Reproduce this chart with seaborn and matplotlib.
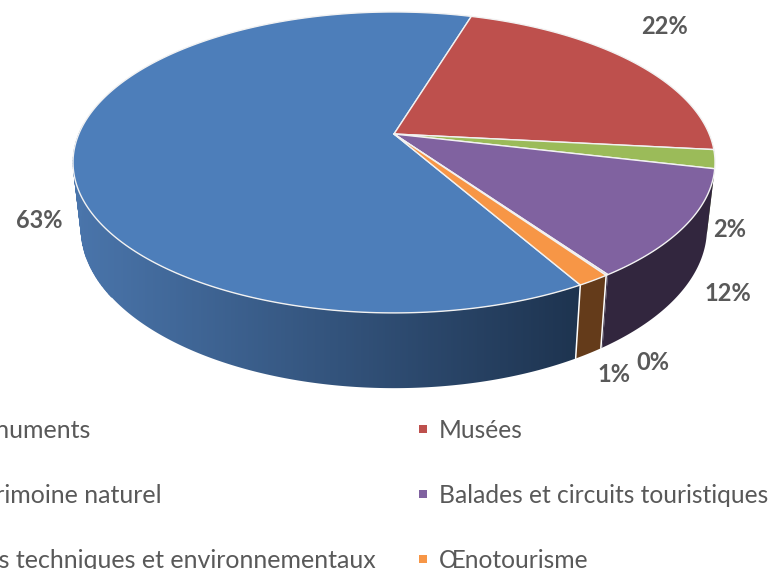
import numpy as np
import matplotlib
matplotlib.use("Agg")
import matplotlib.pyplot as plt
from matplotlib.patches import Polygon
import seaborn as sns

# 데이터
categories = ["Monuments", "Musées", "Patrimoine naturel", "Balades et circuits touristiques",
              "Sites techniques et environnementaux", "Œnotourisme"]
shares = [62.9, 22.0, 2.0, 11.6, 0.1, 1.4]
top_colors = ["#4D7EBA", "#BE504D", "#9BBB59", "#8062A0", "#8062A0", "#F79646"]
wall_left = ["#4A75AB", "#7A302E", "#5D7035", "#32263E", "#32263E", "#6A3F1C"]
wall_right = ["#1C314C", "#7A302E", "#5D7035", "#32263E", "#32263E", "#643B1A"]
start_angle = -209.6

sns.set_theme(style="white")
plt.rcParams["font.family"] = ["Lato", "DejaVu Sans"]
text_color = "#595959"

fig, ax = plt.subplots(figsize=(7.73, 5.69), dpi=100)
fig.subplots_adjust(0, 0, 1, 1)
ax.axis("off")

# 원근 투영 (각도는 12시 방향에서 시계방향)
cx, cy, a, b, k = 394, 134, 315.2, 145.1, -0.189


def rim(deg):
    t = np.radians(deg)
    u, v = np.sin(t), -np.cos(t)
    w = 1 + k * v
    return cx + a * u / w, cy + b * v / w


def floor(x, y):
    return cx + 0.975 * (x - cx), y + 56 + 0.0615 * y


edges = start_angle + np.concatenate([[0], np.cumsum(shares)]) * 3.6

# 옆면 (그라데이션 이미지를 다각형으로 자름)
x_min, x_max = 75, 600
ramp = np.clip((np.arange(773) - x_min) / (x_max - x_min), 0, 1)[None, :]
for i in range(len(shares)):
    # 파랑 조각만 음수 각도 구간에 있음
    near_lo, near_hi = (-270, -88) if i == 0 else (90, 272)
    lo, hi = max(edges[i], near_lo), min(edges[i + 1], near_hi)
    if lo >= hi:
        continue
    xs, ys = rim(np.linspace(lo, hi, 200))
    fx, fy = floor(xs, ys)
    pts = np.c_[np.r_[xs, fx[::-1]], np.r_[ys, fy[::-1]]]
    cmap = sns.blend_palette([wall_left[i], wall_right[i]], as_cmap=True)
    img = ax.imshow(ramp, extent=(0, 773, 400, 100), cmap=cmap, vmin=0, vmax=1,
                    aspect="auto", zorder=2)
    img.set_clip_path(Polygon(pts, closed=True, transform=ax.transData))

# 왼쪽 끝 얇은 옆면은 클립에서 빠지므로 따로 채움
steps = np.arange(-125, -85, 1.0)
for t0, t1 in zip(steps[:-1], steps[1:]):
    x0, y0 = rim(t0)
    x1, y1 = rim(t1)
    x2, y2 = floor(x1, y1)
    x3, y3 = floor(x0, y0)
    ax.fill([x0, x1, x2, x3], [y0, y1, y2, y3], color=wall_left[0], lw=0.5, zorder=1.5)

ax.set_xlim(0, 773)
ax.set_ylim(569, 0)

# 옆면 경계선
for deg in [edges[0], edges[5]]:
    x0, y0 = rim(deg)
    x1, y1 = floor(x0, y0)
    ax.plot([x0, x1], [y0, y1], color="white", lw=1.1, zorder=3)

# 윗면
for i in range(len(shares)):
    t = np.linspace(edges[i], edges[i + 1], 240)
    xs, ys = rim(t)
    ax.fill(np.r_[cx, xs], np.r_[cy, ys], facecolor=top_colors[i], edgecolor="#F2F2F2",
            lw=1.0, joinstyle="round", zorder=4)

# 비율 라벨
label_pos = [(39, 220), (664, 26), (730, 229), (728, 293), (653, 362), (614, 374)]
for s, (x, y) in zip(shares, label_pos):
    ax.text(x, y, f"{s:.0f}%", color=text_color, fontsize=17, fontweight="bold",
            ha="center", va="center", zorder=5)

# 범례 (왼쪽 열은 원본처럼 잘림)
left_ends = [(91, 430), (162, 495), (376, 560)]
for name, (x, y) in zip(categories[0::2], left_ends):
    ax.text(x, y, name, color=text_color, fontsize=18, ha="right", va="center")
for i, y in zip([1, 3, 5], [429, 494, 559]):
    ax.scatter([423], [y], marker="s", s=33, color=top_colors[i], linewidths=0)
    ax.text(439, y + 1, categories[i], color=text_color, fontsize=17.7, ha="left", va="center")

fig.savefig("out.png", dpi=100)
